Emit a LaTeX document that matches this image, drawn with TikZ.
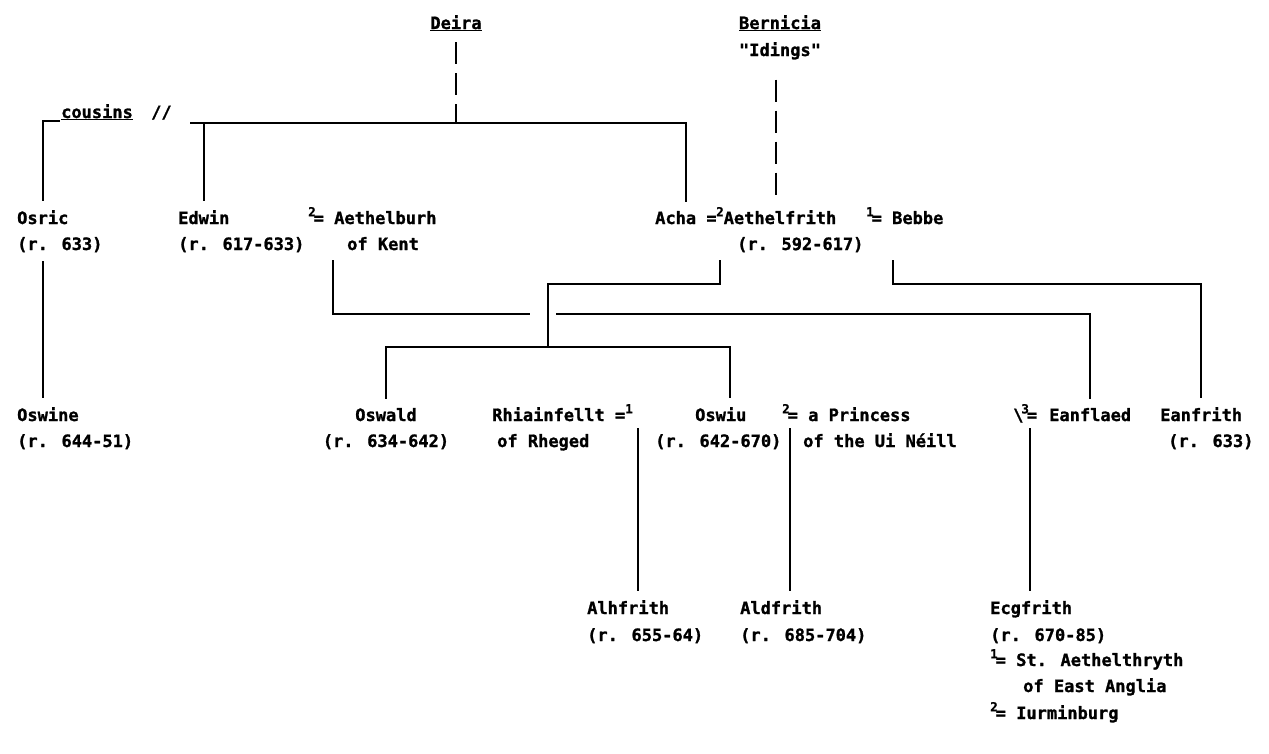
\documentclass[tikz,border=0pt]{standalone}
\usepackage{fontspec}
\newfontfamily\tw{DejaVu Sans Mono}[BoldFeatures={FakeBold=1.2}]
\newcommand{\sups}[1]{\raisebox{0.45em}{\fontsize{12.5}{12.5}\selectfont #1}}
\begin{document}
\begin{tikzpicture}[x=1pt,y=-1pt,
  lbl/.style={anchor=base west,inner sep=0pt,font=\tw\bfseries\fontsize{17}{19}\selectfont},
  ctr/.style={anchor=base,inner sep=0pt,font=\tw\bfseries\fontsize{17}{19}\selectfont},
  ln/.style={line width=1.6pt},
  dln/.style={line width=1.8pt,dash pattern=on 22pt off 9pt}]
\useasboundingbox[fill=white] (0,0) rectangle (1269,753);
% row 0
\node[ctr] (deira) at (456,29) {\underline{Deira}};
\node[ctr] (bern) at (780,29) {\underline{Bernicia}};
\node[ctr] (idings) at (780,56) {"Idings"};
\node[lbl] (cousins) at (61,118) {\underline{cousins}};
\node[lbl] (slash) at (151,118) {//};
% row 2
\node[lbl] (osric) at (17,224) {Osric};
\node[lbl] (osricd) at (17,250) {(r. 633)};
\node[lbl] (edwin) at (178,224) {Edwin};
\node[lbl] (edwind) at (178,250) {(r. 617-633)};
\node[lbl] (aeb) at (308,224) {\sups{2}\kern-2pt= Aethelburh};
\node[lbl] (kent) at (347,250) {of Kent};
\node[lbl] (acha) at (655,224) {Acha =};
\node[lbl] (aethf) at (716,224) {\sups{2}Aethelfrith};
\node[lbl] (bebbe) at (866,224) {\sups{1}\kern-2pt= Bebbe};
\node[lbl] (aethfd) at (737,250) {(r. 592-617)};
% row 3
\node[lbl] (oswine) at (17,421) {Oswine};
\node[lbl] (oswined) at (17,447) {(r. 644-51)};
\node[ctr] (oswald) at (386,421) {Oswald};
\node[ctr] (oswaldd) at (386,447) {(r. 634-642)};
\node[lbl] (rhia) at (492,421) {Rhiainfellt =\sups{1}};
\node[lbl] (rheged) at (497,447) {of Rheged};
\node[lbl] (oswiu) at (695,421) {Oswiu};
\node[lbl] (oswiud) at (655,447) {(r. 642-670)};
\node[lbl] (princess) at (782,421) {\sups{2}\kern-2pt= a Princess};
\node[lbl] (neill) at (803,447) {of the Ui Néill};
\node[lbl] (eansign) at (1013,421) {\textbackslash\kern-2pt\sups{3}\kern-2pt=};
\node[lbl] (eanflaed) at (1049,421) {Eanflaed};
\node[lbl] (eanfrith) at (1160,421) {Eanfrith};
\node[lbl] (eanfrithd) at (1168,447) {(r. 633)};
% row 4
\node[lbl] (alhfrith) at (587,614) {Alhfrith};
\node[lbl] (alhfrithd) at (587,641) {(r. 655-64)};
\node[lbl] (aldfrith) at (740,614) {Aldfrith};
\node[lbl] (aldfrithd) at (740,641) {(r. 685-704)};
\node[lbl] (ecg) at (990,614) {Ecgfrith};
\node[lbl] (ecgd) at (990,641) {(r. 670-85)};
\node[lbl] (ecga) at (990,666) {\sups{1}\kern-2pt= St. Aethelthryth};
\node[lbl] (ecgb) at (1023,692) {of East Anglia};
\node[lbl] (ecgc) at (990,719) {\sups{2}\kern-2pt= Iurminburg};
% tops of name nodes
\foreach \n in {osric,edwin,acha,aethf,oswine,oswald,oswiu,eanflaed,eanfrith,alhfrith,aldfrith,ecg}
  {\path (\n.north) ++(0,-9) coordinate (\n-top);}
% junction coordinates
\coordinate (deiraj) at (456,123);
\coordinate (linestart) at (190,123);
\coordinate (cousinsw) at (60,121);
\coordinate (aebtop) at (333,260);
\coordinate (aebend) at (530,314);
\coordinate (aebcont) at (556,314);
\coordinate (achtop) at (720,260);
\coordinate (childj) at (548,347);
\coordinate (oswiuj) at (730,347);
\coordinate (bebtop) at (893,260);
\coordinate (bebj) at (893,284);
\coordinate (rhtop) at (638,428);
\coordinate (prtop) at (790,428);
\coordinate (eatop) at (1030,428);
\path (osricd.south) ++(0,9) coordinate (osricb);
\path (idings.south) ++(0,20) coordinate (bernb);
% connectors
\draw[dln] ([yshift=-11pt]deira.south) -- (deiraj);
\draw[dln] (aethf-top |- bernb) -- (aethf-top);
\draw[ln] (osric-top) |- (cousinsw);
\draw[ln] (linestart) -| (acha-top);
\draw[ln] (edwin-top) -- (edwin-top |- linestart);
\draw[ln] (osric-top |- osricb) -- (osric-top |- oswine-top);
\draw[ln] (aebtop) |- (aebend);
\draw[ln] (aebcont) -| (eanflaed-top);
\draw[ln] (achtop) |- (childj |- bebj) -- (childj);
\draw[ln] (oswald-top) |- (oswiuj) -- (oswiuj |- oswiu-top);
\draw[ln] (bebtop) -- (bebj) -| (eanfrith-top);
\draw[ln] (rhtop) -- (rhtop |- alhfrith-top);
\draw[ln] (prtop) -- (prtop |- aldfrith-top);
\draw[ln] (eatop) -- (eatop |- ecg-top);
\end{tikzpicture}
\end{document}
